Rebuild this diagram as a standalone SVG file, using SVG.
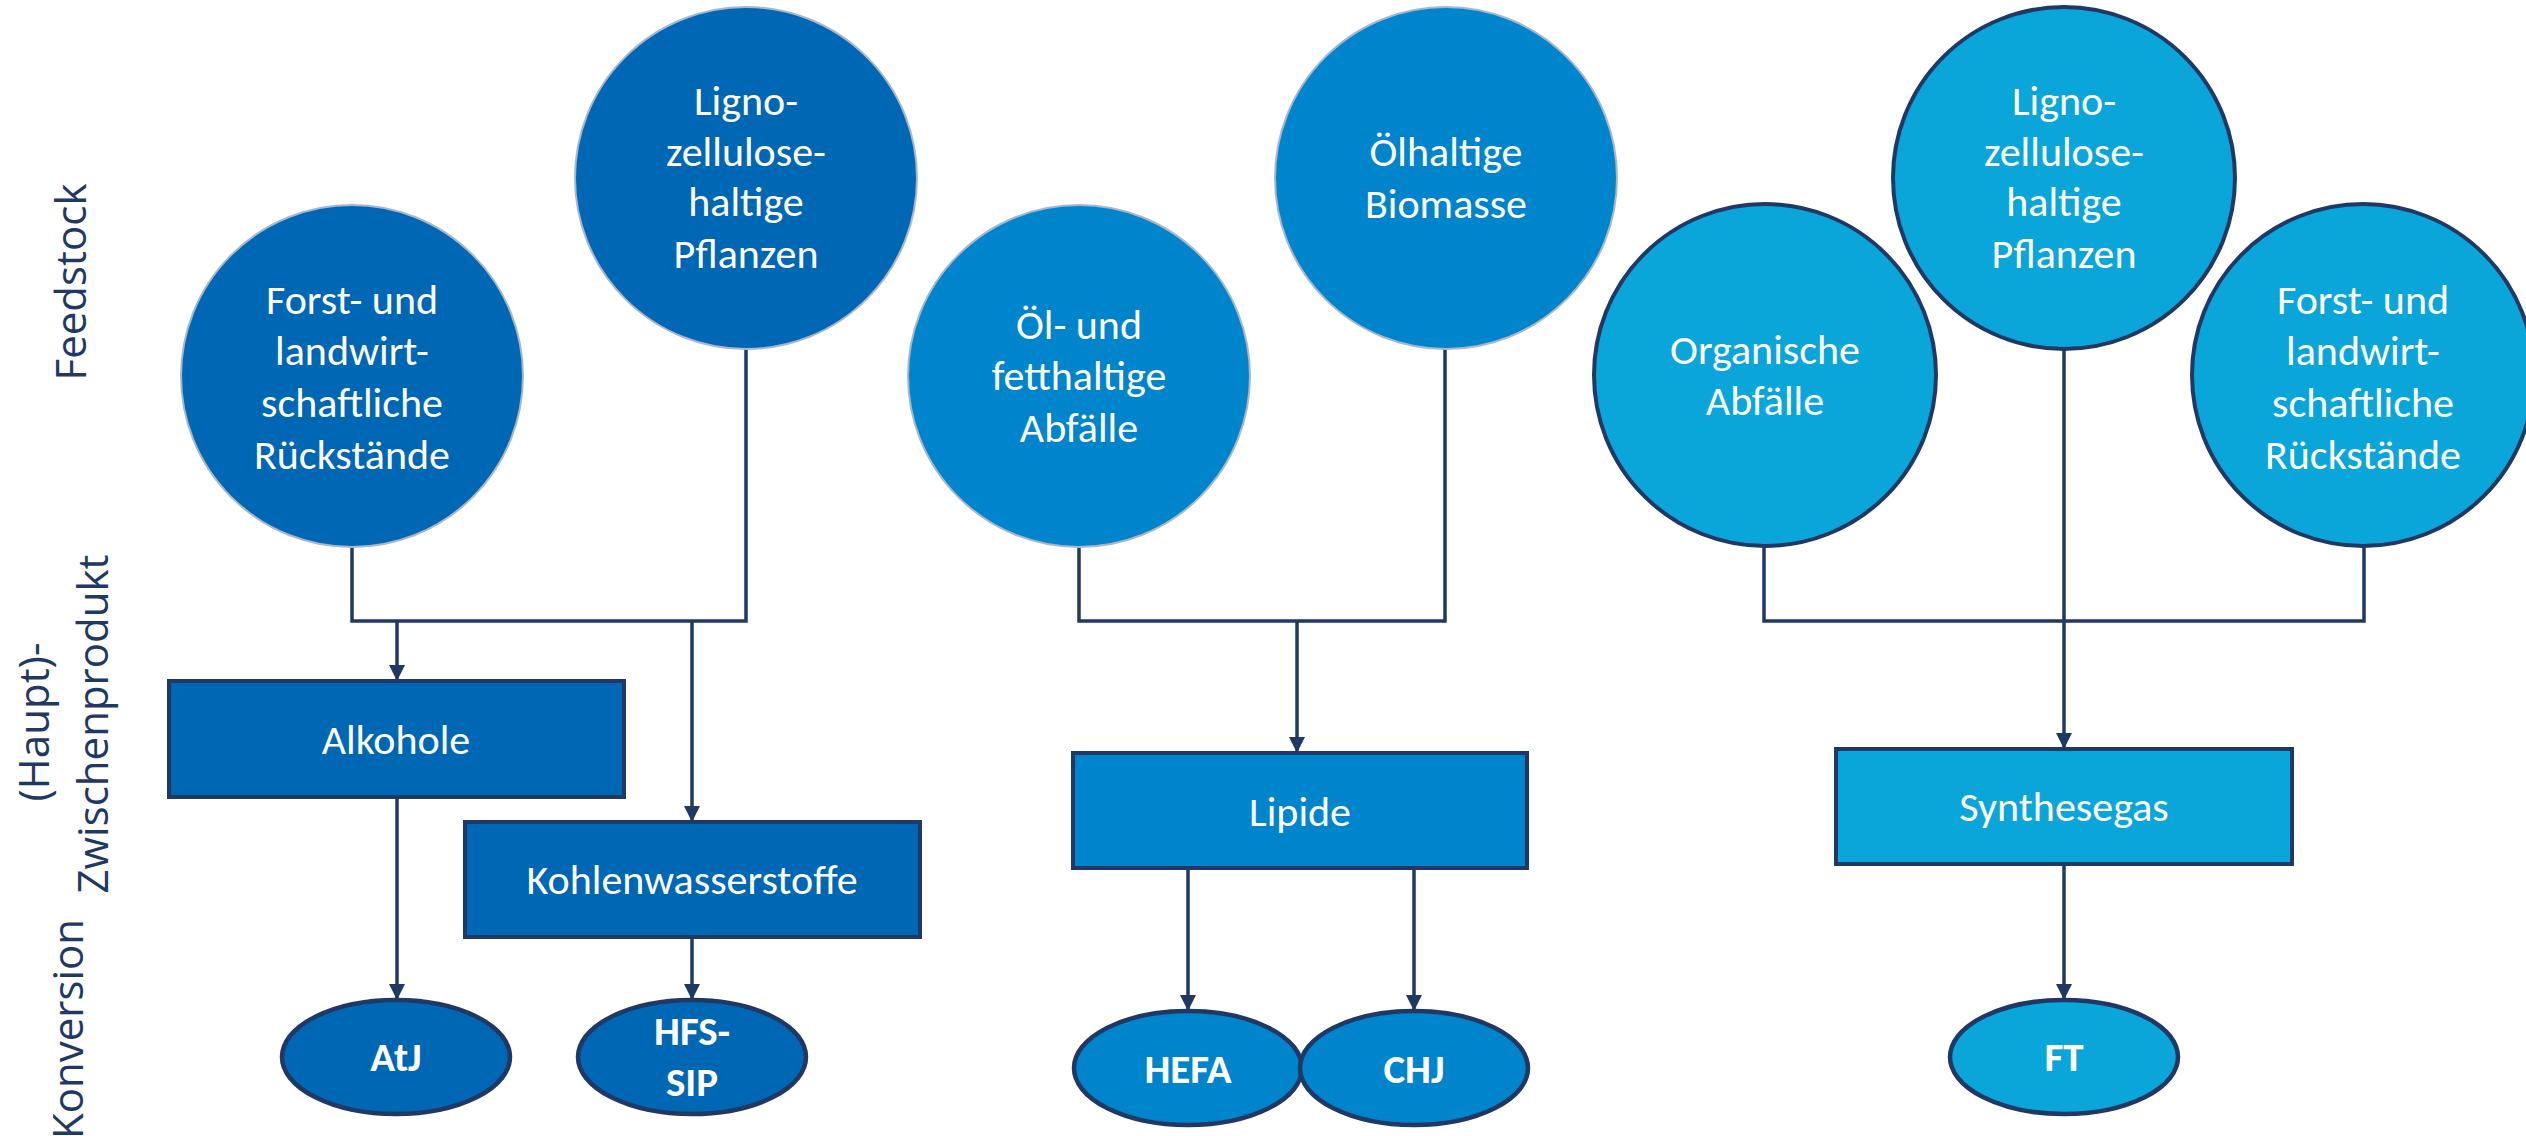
<svg xmlns="http://www.w3.org/2000/svg" width="2526" height="1136" viewBox="0 0 2526 1136">
  <style>
    .lbl { font-family: "Open Sans", "DejaVu Sans", sans-serif; font-size: 42px; fill: #1F3864; text-anchor: middle; }
    .t { font-family: Carlito, "Liberation Sans Narrow", "Liberation Sans", sans-serif; font-size: 42px; fill: #FFFFFF; text-anchor: middle; }
    .b { font-family: Carlito, "Liberation Sans Narrow", "Liberation Sans", sans-serif; font-size: 41px; font-weight: bold; fill: #FFFFFF; text-anchor: middle; }
    .c1 { fill: #0067B4; stroke: #A8B7CC; stroke-width: 2; }
    .c2 { fill: #0085CC; stroke: #A8B7CC; stroke-width: 2; }
    .c3 { fill: #0BA6D9; stroke: #1F3864; stroke-width: 4; }
    .r1 { fill: #0067B4; stroke: #1F3864; stroke-width: 4; }
    .r2 { fill: #0085CC; stroke: #1F3864; stroke-width: 4; }
    .r3 { fill: #0BA6D9; stroke: #1F3864; stroke-width: 4; }
    .e1 { fill: #0067B4; stroke: #1F3864; stroke-width: 4.5; }
    .e2 { fill: #0085CC; stroke: #1F3864; stroke-width: 4.5; }
    .e3 { fill: #0BA6D9; stroke: #1F3864; stroke-width: 4.5; }
    .ln { fill: none; stroke: #1F3864; stroke-width: 3.5; }
    .ar { fill: none; stroke: #1F3864; stroke-width: 3.5; marker-end: url(#arr); }
  </style>
  <defs>
    <marker id="arr" markerUnits="userSpaceOnUse" markerWidth="16" markerHeight="16" refX="14" refY="8" orient="auto">
      <path d="M0,0 L16,8 L0,16 z" fill="#1F3864"/>
    </marker>
  </defs>

  <g id="labels">
    <text class="lbl" transform="translate(86,282) rotate(-90)">Feedstock</text>
    <text class="lbl" transform="translate(49,722) rotate(-90)">(Haupt)-</text>
    <text class="lbl" transform="translate(108,724) rotate(-90)">Zwischenprodukt</text>
    <text class="lbl" transform="translate(83,1029) rotate(-90)">Konversion</text>
  </g>

  <g id="connectors">
    <path class="ln" d="M352,547 V621 H746 V349"/>
    <path class="ar" d="M397,621 V679"/>
    <path class="ar" d="M692,621 V820"/>
    <path class="ar" d="M397,797 V998"/>
    <path class="ar" d="M692,937 V998"/>
    <path class="ln" d="M1079,547 V621 H1445 V349"/>
    <path class="ar" d="M1297,621 V751"/>
    <path class="ar" d="M1188,868 V1009"/>
    <path class="ar" d="M1414,868 V1009"/>
    <path class="ln" d="M1764,546 V621 H2364 V546"/>
    <path class="ar" d="M2064,349 V747"/>
    <path class="ar" d="M2064,864 V998"/>
  </g>

  <g id="n-forst1">
    <circle class="c1" cx="352" cy="376" r="171"/>
    <text class="t" x="352" y="314">Forst- und</text>
    <text class="t" x="352" y="365">landwirt-</text>
    <text class="t" x="352" y="417">schaftliche</text>
    <text class="t" x="352" y="469">Rückstände</text>
  </g>
  <g id="n-ligno1">
    <circle class="c1" cx="746" cy="178" r="171"/>
    <text class="t" x="746" y="115">Ligno-</text>
    <text class="t" x="746" y="166">zellulose-</text>
    <text class="t" x="746" y="216">haltige</text>
    <text class="t" x="746" y="268">Pflanzen</text>
  </g>
  <g id="n-alkohole">
    <rect class="r1" x="169" y="681" width="455" height="116"/>
    <text class="t" x="396" y="754">Alkohole</text>
  </g>
  <g id="n-kohlen">
    <rect class="r1" x="465" y="822" width="455" height="115"/>
    <text class="t" x="692" y="894">Kohlenwasserstoffe</text>
  </g>
  <g id="n-atj">
    <ellipse class="e1" cx="396" cy="1057" rx="114" ry="57"/>
    <text class="b" x="396" y="1071">AtJ</text>
  </g>
  <g id="n-hfs">
    <ellipse class="e1" cx="692" cy="1057" rx="114" ry="57"/>
    <text class="b" x="692" y="1045">HFS-</text>
    <text class="b" x="692" y="1096">SIP</text>
  </g>

  <g id="n-oel-fett">
    <circle class="c2" cx="1079" cy="376" r="171"/>
    <text class="t" x="1079" y="339">Öl- und</text>
    <text class="t" x="1079" y="390">fetthaltige</text>
    <text class="t" x="1079" y="442">Abfälle</text>
  </g>
  <g id="n-oelhaltig">
    <circle class="c2" cx="1446" cy="178" r="171"/>
    <text class="t" x="1446" y="166">Ölhaltige</text>
    <text class="t" x="1446" y="218">Biomasse</text>
  </g>
  <g id="n-lipide">
    <rect class="r2" x="1073" y="753" width="454" height="115"/>
    <text class="t" x="1300" y="826">Lipide</text>
  </g>
  <g id="n-hefa">
    <ellipse class="e2" cx="1188" cy="1068" rx="114" ry="57"/>
    <text class="b" x="1188" y="1083">HEFA</text>
  </g>
  <g id="n-chj">
    <ellipse class="e2" cx="1414" cy="1068" rx="114" ry="57"/>
    <text class="b" x="1414" y="1083">CHJ</text>
  </g>

  <g id="n-organisch">
    <circle class="c3" cx="1765" cy="375" r="171"/>
    <text class="t" x="1765" y="364">Organische</text>
    <text class="t" x="1765" y="415">Abfälle</text>
  </g>
  <g id="n-ligno2">
    <circle class="c3" cx="2064" cy="178" r="171"/>
    <text class="t" x="2064" y="115">Ligno-</text>
    <text class="t" x="2064" y="166">zellulose-</text>
    <text class="t" x="2064" y="216">haltige</text>
    <text class="t" x="2064" y="268">Pflanzen</text>
  </g>
  <g id="n-forst2">
    <circle class="c3" cx="2363" cy="375" r="171"/>
    <text class="t" x="2363" y="314">Forst- und</text>
    <text class="t" x="2363" y="365">landwirt-</text>
    <text class="t" x="2363" y="417">schaftliche</text>
    <text class="t" x="2363" y="469">Rückstände</text>
  </g>
  <g id="n-synthese">
    <rect class="r3" x="1836" y="749" width="456" height="115"/>
    <text class="t" x="2064" y="821">Synthesegas</text>
  </g>
  <g id="n-ft">
    <ellipse class="e3" cx="2064" cy="1057" rx="114" ry="57"/>
    <text class="b" x="2064" y="1071">FT</text>
  </g>
</svg>
